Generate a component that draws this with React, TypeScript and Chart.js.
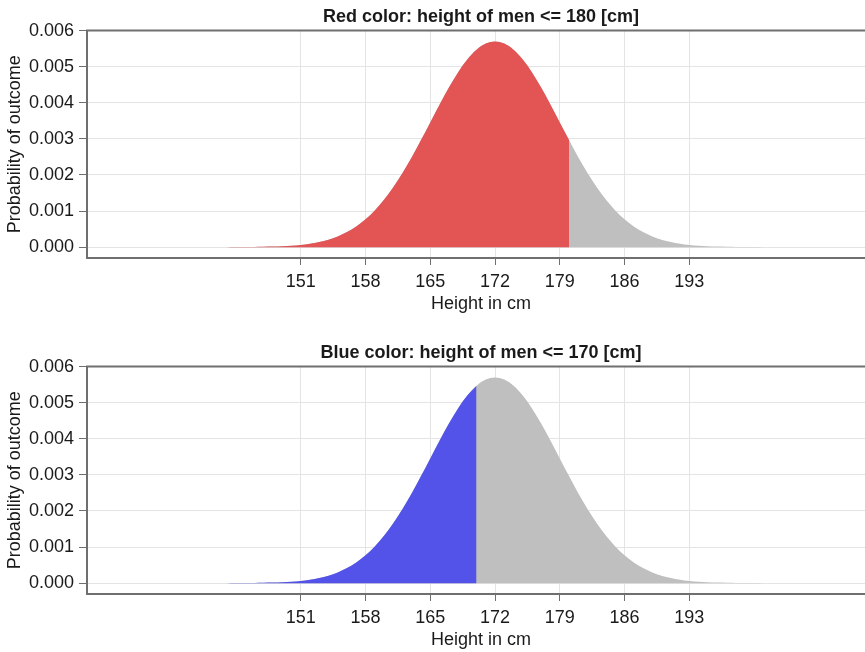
import React, { useEffect, useRef } from "react";
import { Chart, registerables } from "chart.js";

Chart.register(...registerables);

// Heights (cm) and the probability of each outcome
const heights = [
  140, 141, 142, 143, 144, 145, 146, 147, 148, 149, 150, 151, 152, 153, 154, 155,
  156, 157, 158, 159, 160, 161, 162, 163, 164, 165, 166, 167, 168, 169, 170, 171,
  172, 173, 174, 175, 176, 177, 178, 179, 180, 181, 182, 183, 184, 185, 186, 187,
  188, 189, 190, 191, 192, 193, 194, 195, 196, 197, 198, 199, 200, 201, 202, 203, 204,
];
const probability = [
  0.0, 0.0, 0.000001, 0.000001, 0.000002, 0.000003, 0.000006, 0.00001, 0.000016,
  0.000026, 0.000041, 0.000063, 0.000096, 0.000143, 0.000209, 0.000299, 0.000418,
  0.000574, 0.000771, 0.001016, 0.001311, 0.001658, 0.002054, 0.002494, 0.002966,
  0.003457, 0.003947, 0.004416, 0.004841, 0.005199, 0.005471, 0.005641, 0.005699,
  0.005641, 0.005471, 0.005199, 0.004841, 0.004416, 0.003947, 0.003457, 0.002966,
  0.002494, 0.002054, 0.001658, 0.001311, 0.001016, 0.000771, 0.000574, 0.000418,
  0.000299, 0.000209, 0.000143, 0.000096, 0.000063, 0.000041, 0.000026, 0.000016,
  0.00001, 0.000006, 0.000003, 0.000002, 0.000001, 0.000001, 0.0, 0.0,
];

const xTickValues = [151, 158, 165, 172, 179, 186, 193];
const yTickValues = [0, 0.001, 0.002, 0.003, 0.004, 0.005, 0.006];

const panelTitles = [
  "Red color: height of men <= 180 [cm]",
  "Blue color: height of men <= 170 [cm]",
];
const panelCutoffs = [180, 170];
const panelColors = ["#e35455", "#5353e9"];
const restColor = "#bfbfbf";

const FONT = '"Liberation Sans", Arial, Helvetica, sans-serif';
const AXIS_COLOR = "#6f6f6f";
const GRID_COLOR = "#e4e4e4";
const TEXT_COLOR = "#1a1a1a";

const topBorder = {
  id: "topBorder",
  afterDraw(chart: any) {
    const { ctx, chartArea } = chart;
    ctx.save();
    ctx.strokeStyle = AXIS_COLOR;
    ctx.lineWidth = 2;
    ctx.beginPath();
    ctx.moveTo(chartArea.left - 1, chartArea.top);
    ctx.lineTo(chartArea.right, chartArea.top);
    ctx.stroke();
    ctx.restore();
  },
};

const CANVAS_W = 875;

function Panel({ index, height, padBottom }: { index: number; height: number; padBottom: number }) {
  const ref = useRef<HTMLCanvasElement | null>(null);

  useEffect(() => {
    if (!ref.current) return;
    const cutoff = panelCutoffs[index];
    const all = heights.map((h, i) => ({ x: h, y: probability[i] }));
    const below = all.filter((p) => p.x <= cutoff);

    const chart = new Chart(ref.current, {
      type: "line",
      data: {
        datasets: [
          {
            data: below,
            backgroundColor: panelColors[index],
            borderWidth: 0,
            pointRadius: 0,
            fill: "origin",
            cubicInterpolationMode: "monotone",
          },
          {
            data: all,
            backgroundColor: restColor,
            borderWidth: 0,
            pointRadius: 0,
            fill: "origin",
            cubicInterpolationMode: "monotone",
          },
        ],
      },
      options: {
        responsive: false,
        animation: false,
        layout: { padding: { left: 0, right: 0, top: 0, bottom: padBottom } },
        plugins: {
          legend: { display: false },
          tooltip: { enabled: false },
          title: {
            display: true,
            fullSize: false,
            text: panelTitles[index],
            color: TEXT_COLOR,
            font: { family: FONT, size: 18, weight: "bold" },
            padding: { top: 6, bottom: 3 },
          },
        },
        scales: {
          x: {
            type: "linear",
            min: 127.9,
            max: 213.07,
            afterBuildTicks: (axis: any) => {
              axis.ticks = xTickValues.map((v) => ({ value: v }));
            },
            afterFit: (scale: any) => {
              scale.height = 58;
            },
            ticks: {
              color: TEXT_COLOR,
              font: { family: FONT, size: 18 },
              padding: 6,
              maxRotation: 0,
              autoSkip: false,
              callback: (v: any) => String(v),
            },
            grid: {
              color: GRID_COLOR,
              tickColor: AXIS_COLOR,
              tickLength: 7,
              lineWidth: 1,
            },
            border: { display: true, color: AXIS_COLOR, width: 2 },
            title: {
              display: true,
              text: "Height in cm",
              color: TEXT_COLOR,
              font: { family: FONT, size: 18 },
              padding: { top: 4, bottom: 1 },
            },
          },
          y: {
            type: "linear",
            min: -0.0003,
            max: 0.006,
            afterBuildTicks: (axis: any) => {
              axis.ticks = yTickValues.map((v) => ({ value: v }));
            },
            afterFit: (scale: any) => {
              scale.width = 87;
            },
            ticks: {
              color: TEXT_COLOR,
              font: { family: FONT, size: 18 },
              padding: 5,
              callback: (v: any) => Number(v).toFixed(3),
            },
            grid: {
              color: GRID_COLOR,
              tickColor: AXIS_COLOR,
              tickLength: 8,
              lineWidth: 1,
            },
            border: { display: true, color: AXIS_COLOR, width: 2 },
            title: {
              display: true,
              text: "Probability of outcome",
              color: TEXT_COLOR,
              font: { family: FONT, size: 18 },
              padding: { top: 4, bottom: 4 },
            },
          },
        },
      },
      plugins: [topBorder],
    } as any);

    return () => chart.destroy();
  }, [index, padBottom]);

  return (
    <canvas
      ref={ref}
      width={CANVAS_W}
      height={height}
      style={{ display: "block", width: CANVAS_W, height }}
    />
  );
}

export default function App() {
  useEffect(() => {
    document.body.style.margin = "0";
    document.body.style.overflow = "hidden";
  }, []);
  return (
    <div style={{ width: 865, height: 652, background: "#ffffff", overflow: "hidden" }}>
      <Panel index={0} height={336} padBottom={20} />
      <Panel index={1} height={316} padBottom={0} />
    </div>
  );
}
